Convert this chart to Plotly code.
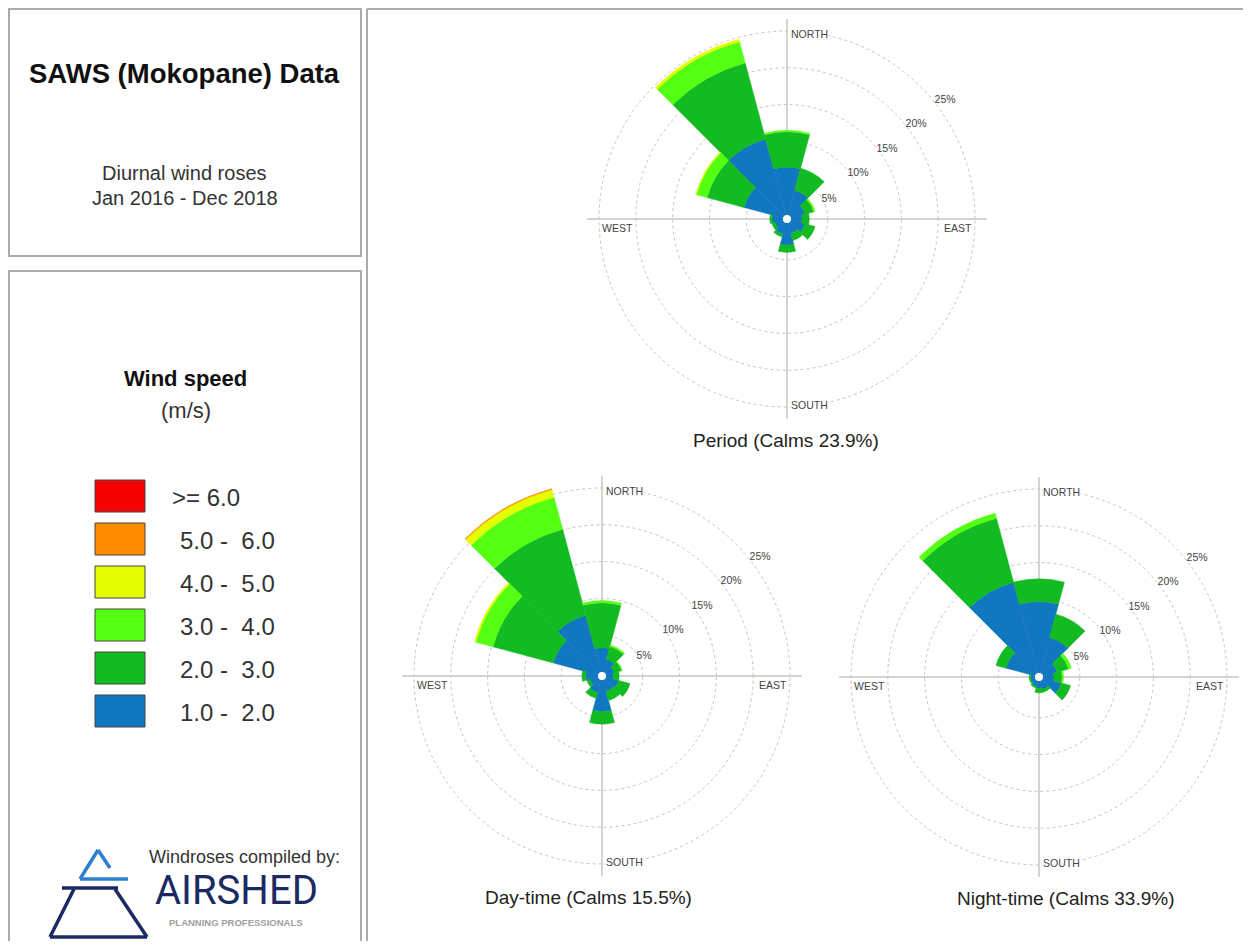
import plotly.graph_objects as go

# window is 1253x951; the html body has an 8px margin, so the figure is drawn
# 8px in from the top-left and every position below is given in window pixels
WIN_W, WIN_H = 1253, 951
OX, OY = 8, 8
FW, FH = WIN_W - 2 * OX - 2, WIN_H - 2 * OY - 2

# ---------------- data ----------------
directions = [0, 30, 60, 90, 120, 150, 180, 210, 240, 270, 300, 330]
speed_bins = ["1.0 -  2.0", "2.0 -  3.0", "3.0 -  4.0", "4.0 -  5.0", "5.0 -  6.0", ">= 6.0"]
bin_colors = ["#1177c0", "#12bb22", "#55ff14", "#e4ff00", "#ff8c00", "#f50000"]
ring_values = [5, 10, 15, 20, 25]

# frequency (%) contributed by each speed class, per direction
period_1_2 = [6.5, 3.5, 2.0, 1.5, 2.0, 1.5, 3.0, 1.6, 1.2, 1.5, 5.5, 10.7]
period_2_3 = [4.8, 3.1, 1.2, 1.0, 1.4, 1.0, 1.0, 0.4, 0.4, 0.3, 5.2, 10.7]
period_3_4 = [0.2, 0.0, 0.2, 0.0, 0.0, 0.0, 0.0, 0.0, 0.0, 0.0, 1.5, 3.0]
period_4_5 = [0.0, 0.0, 0.0, 0.0, 0.0, 0.0, 0.0, 0.0, 0.0, 0.0, 0.1, 0.35]
period_5_6 = [0.0] * 12
period_6p = [0.0] * 12

day_1_2 = [3.3, 1.8, 1.2, 1.0, 1.8, 1.6, 4.3, 1.8, 1.2, 1.7, 6.3, 8.0]
day_2_3 = [6.1, 1.8, 1.0, 0.8, 1.6, 1.3, 1.7, 0.8, 0.4, 0.5, 8.5, 12.1]
day_3_4 = [0.3, 0.2, 0.1, 0.0, 0.0, 0.0, 0.0, 0.0, 0.0, 0.0, 2.4, 4.5]
day_4_5 = [0.0, 0.0, 0.0, 0.0, 0.0, 0.0, 0.0, 0.0, 0.0, 0.0, 0.2, 1.1]
day_5_6 = [0.0, 0.0, 0.0, 0.0, 0.0, 0.0, 0.0, 0.0, 0.0, 0.0, 0.0, 0.1]
day_6p = [0.0] * 12

night_1_2 = [9.7, 5.0, 2.0, 1.5, 2.6, 1.2, 1.0, 0.8, 0.6, 0.6, 4.1, 12.8]
night_2_3 = [3.1, 3.3, 1.6, 1.1, 1.3, 0.4, 0.6, 0.2, 0.2, 0.2, 1.4, 9.0]
night_3_4 = [0.0, 0.0, 0.4, 0.2, 0.0, 0.0, 0.0, 0.0, 0.0, 0.0, 0.0, 0.7]
night_4_5 = [0.0] * 12
night_5_6 = [0.0] * 12
night_6p = [0.0] * 12

rose_titles = ["Period (Calms 23.9%)", "Day-time (Calms 15.5%)", "Night-time (Calms 33.9%)"]
roses = [
    [period_1_2, period_2_3, period_3_4, period_4_5, period_5_6, period_6p],
    [day_1_2, day_2_3, day_3_4, day_4_5, day_5_6, day_6p],
    [night_1_2, night_2_3, night_3_4, night_4_5, night_5_6, night_6p],
]

# ---------------- layout helpers ----------------
def px(x):
    return (x - OX) / FW


def py(y):
    return 1 - (y - OY) / FH


def clamp(v):
    return min(1.0, max(0.0, v))


centers = [(787, 219), (602, 676), (1039, 677)]
title_x = [786, 588, 1066]
R25 = 188.0
RMAX = 26.6
HOLE = 0.02
R_FULL = R25 / (HOLE + (1 - HOLE) * 25 / RMAX)
FONT = "Arial, 'Liberation Sans', Helvetica, sans-serif"

fig = go.Figure()
layout_polars = {}
annotations = []
shapes = []

for i, (bins, (cx, cy)) in enumerate(zip(roses, centers)):
    pname = "polar" if i == 0 else f"polar{i + 1}"
    for vals, col, name in zip(bins, bin_colors, speed_bins):
        fig.add_trace(go.Barpolar(
            r=vals, theta=directions, width=[30] * len(directions),
            marker=dict(color=col, line=dict(color=col, width=0.5)),
            name=name, showlegend=False, subplot=pname,
        ))
    # ring labels
    fig.add_trace(go.Scatterpolar(
        r=[v * 1.03 + 0.6 for v in ring_values],
        theta=[50 + 75.0 / v for v in ring_values],
        text=[f"{v}%" for v in ring_values],
        mode="text", textfont=dict(size=10.5, color="#444", family=FONT),
        showlegend=False, subplot=pname, cliponaxis=False, hoverinfo="skip",
    ))
    layout_polars[pname] = dict(
        domain=dict(x=[clamp(px(cx - R_FULL)), clamp(px(cx + R_FULL))],
                    y=[clamp(py(cy + R_FULL)), clamp(py(cy - R_FULL))]),
        hole=HOLE,
        bgcolor="white",
        barmode="stack",
        radialaxis=dict(range=[0, RMAX], tickvals=ring_values, showticklabels=False,
                        ticks="", showline=False, gridcolor="#c4c4c4", griddash="dot",
                        gridwidth=1.2),
        angularaxis=dict(rotation=90, direction="clockwise", tickvals=[0, 90, 180, 270],
                         showticklabels=False, ticks="", showline=False,
                         gridcolor="#a8a8a8", gridwidth=1),
    )
    lab = dict(font=dict(size=10.5, color="#444", family=FONT), showarrow=False,
               xref="paper", yref="paper", bgcolor="white", borderpad=0)
    annotations += [
        dict(text="NORTH", x=px(cx + 3), y=py(cy - R25 + 3), xanchor="left", yanchor="middle", **lab),
        dict(text="SOUTH", x=px(cx + 3), y=py(cy + R25 - 2), xanchor="left", yanchor="middle", **lab),
        dict(text="WEST", x=px(cx - R25 + 2), y=py(cy + 9), xanchor="left", yanchor="middle", **lab),
        dict(text="EAST", x=px(cx + R25 - 2), y=py(cy + 9), xanchor="right", yanchor="middle", **lab),
    ]
    annotations.append(dict(text=rose_titles[i], x=px(title_x[i]), y=py(cy + 221),
                            xref="paper", yref="paper", showarrow=False,
                            xanchor="center", yanchor="middle",
                            font=dict(size=19, color="#222", family=FONT)))

# ---------------- panels ----------------
border = dict(color="#ababab", width=2)
shapes += [
    dict(type="rect", xref="paper", yref="paper", x0=px(9), x1=px(361), y0=py(9), y1=py(256), line=border),
    dict(type="rect", xref="paper", yref="paper", x0=px(9), x1=px(361), y0=py(271), y1=py(960), line=border),
    dict(type="line", xref="paper", yref="paper", x0=px(367), x1=px(1260), y0=py(9), y1=py(9), line=border),
    dict(type="line", xref="paper", yref="paper", x0=px(367), x1=px(367), y0=py(9), y1=py(960), line=border),
]


def text(t, x, y, size, color="#333", bold=False, family=FONT, xanchor="center"):
    return dict(text=f"<b>{t}</b>" if bold else t, x=px(x), y=py(y), xref="paper", yref="paper",
                showarrow=False, xanchor=xanchor, yanchor="middle",
                font=dict(size=size, color=color, family=family))


annotations += [
    text("SAWS (Mokopane) Data", 184, 74, 27.5, "#111", bold=True),
    text("Diurnal wind roses", 184, 173, 20),
    text("Jan 2016 - Dec 2018", 185, 198, 20),
    text("Wind speed", 185, 378, 22, "#111", bold=True),
    text("(m/s)", 186, 410, 22),
]

# legend swatches (top = highest class)
for k, (name, col) in enumerate(zip(speed_bins[::-1], bin_colors[::-1])):
    top = 480 + k * 43
    shapes.append(dict(type="rect", xref="paper", yref="paper", x0=px(95), x1=px(145),
                       y0=py(top + 32), y1=py(top), fillcolor=col,
                       line=dict(color="#444", width=1)))
    lx = 170 if name.startswith(">") else 178
    annotations.append(text(name.replace(" ", "\u00a0"), lx, top + 17, 24, xanchor="left"))

# logo
navy = "#1c2a63"
lblue = "#2e7fcf"
logo_lines = [
    ((98, 850), (80, 879), lblue), ((98, 850), (110, 868), lblue),
    ((80, 879), (128, 879), lblue),
    ((62, 888), (118, 888), navy),
    ((74, 889), (50, 937), navy), ((50, 937), (147, 937), navy), ((147, 937), (115, 889), navy),
]
for (x0, y0), (x1, y1), col in logo_lines:
    shapes.append(dict(type="line", xref="paper", yref="paper", x0=px(x0), y0=py(y0),
                       x1=px(x1), y1=py(y1), line=dict(color=col, width=3.5)))
annotations += [
    text("Windroses compiled by:", 244, 857, 18),
    text("AIRSHED", 236, 890, 40, navy, family="Roboto, Arial, sans-serif"),
    text("PLANNING PROFESSIONALS", 236, 922, 9.5, "#a0a0a0", bold=True),
]

fig.update_layout(
    width=FW, height=FH, margin=dict(l=0, r=0, t=0, b=0),
    paper_bgcolor="white", plot_bgcolor="white",
    annotations=annotations, shapes=shapes, showlegend=False,
    **layout_polars,
)

fig.write_html("out.html")
